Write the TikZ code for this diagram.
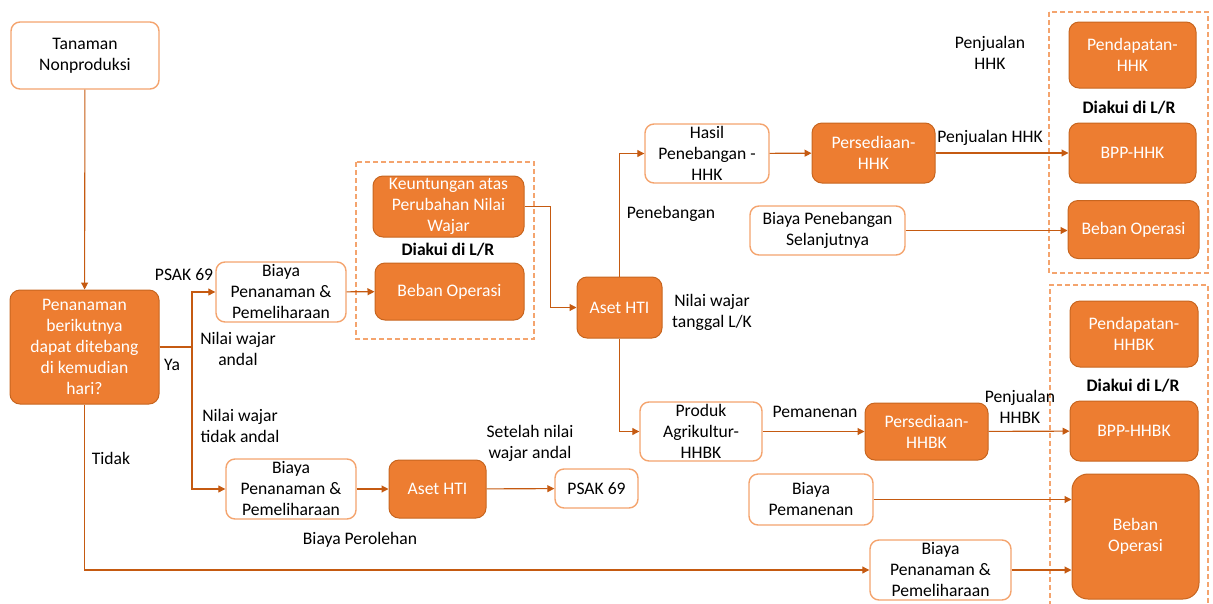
\documentclass[tikz,border=0pt]{standalone}
\usepackage{fontspec}
\setmainfont{Carlito}
\usetikzlibrary{arrows.meta}
\definecolor{orfill}{HTML}{ED7D31}
\definecolor{ordark}{HTML}{C7651F}
\definecolor{orlight}{HTML}{F4A46E}
\definecolor{orline}{HTML}{C55A11}
\begin{document}
\begin{tikzpicture}[x=1pt,y=-1pt,
  every node/.style={font=\fontsize{17.6}{21}\selectfont, inner sep=0pt, align=center},
  wbox/.style={draw=orlight, fill=white, rounded corners=9pt, line width=1.4pt, text=black},
  obox/.style={draw=ordark, fill=orfill, rounded corners=10pt, line width=1pt, text=white},
  conn/.style={draw=orline, line width=1.1pt, -{Triangle[length=7pt,width=7pt]}},
  lbl/.style={text=black},
  bold/.style={text=black, font=\fontsize{17.6}{21}\selectfont\bfseries},
  dbox/.style={draw=orlight, line width=1.4pt, dash pattern=on 5pt off 3pt}]
\useasboundingbox (0,0) rectangle (1213,603);
% dashed groups
\draw[dbox] (356,162) rectangle (534,339);
\draw[dbox] (1049,12) rectangle (1208,273);
\draw[dbox] (1050,606) -- (1050,285) -- (1208,285) -- (1208,606);
% nodes
\node[wbox, minimum width=148, minimum height=67] (tan) at (85,55.5) {Tanaman\\Nonproduksi};
\node[obox, minimum width=149, minimum height=114] (pen) at (84.5,347) {Penanaman\\berikutnya\\dapat ditebang\\di kemudian\\hari?};
\node[wbox, minimum width=130, minimum height=60] (b1) at (281,292) {Biaya\\Penanaman \&\\Pemeliharaan};
\node[obox, minimum width=151, minimum height=61] (keu) at (448.5,206.5) {Keuntungan atas\\Perubahan Nilai\\Wajar};
\node[bold] (d1) at (448,250) {Diakui di L/R};
\node[obox, minimum width=149, minimum height=57] (bo0) at (449.5,291.5) {Beban Operasi};
\node[obox, minimum width=85, minimum height=61] (aset) at (619.5,307.5) {Aset HTI};
\node[wbox, minimum width=124, minimum height=59] (hasil) at (707,153.5) {Hasil\\Penebangan -\\HHK};
\node[obox, minimum width=123, minimum height=60] (phhk) at (873.5,153) {Persediaan-\\HHK};
\node[obox, minimum width=127, minimum height=66] (pdhhk) at (1132.5,55) {Pendapatan-\\HHK};
\node[bold] (d2) at (1129,108) {Diakui di L/R};
\node[obox, minimum width=127, minimum height=60] (bpphhk) at (1132.5,153) {BPP-HHK};
\node[obox, minimum width=131, minimum height=58] (bo1) at (1133.5,229.5) {Beban Operasi};
\node[wbox, minimum width=155, minimum height=49] (bps) at (827.5,230.5) {Biaya Penebangan\\Selanjutnya};
\node[obox, minimum width=128, minimum height=66] (pdhhbk) at (1134,334) {Pendapatan-\\HHBK};
\node[bold] (d3) at (1133,386) {Diakui di L/R};
\node[obox, minimum width=128, minimum height=60] (bpphhbk) at (1134,431) {BPP-HHBK};
\node[obox, minimum width=127, minimum height=125, rounded corners=16pt] (bo2) at (1135.5,536.5) {Beban\\Operasi};
\node[wbox, minimum width=122, minimum height=59] (prod) at (701,431.5) {Produk\\Agrikultur-\\HHBK};
\node[obox, minimum width=123, minimum height=57] (phhbk) at (926.5,431.5) {Persediaan-\\HHBK};
\node[wbox, minimum width=124, minimum height=51] (bpm) at (811,499.5) {Biaya\\Pemanenan};
\node[wbox, minimum width=141, minimum height=60] (bpr) at (940.5,570) {Biaya\\Penanaman \&\\Pemeliharaan};
\node[wbox, minimum width=83, minimum height=39] (psak) at (596.5,488.5) {PSAK 69};
\node[obox, minimum width=97, minimum height=58] (aset2) at (437.5,489) {Aset HTI};
\node[wbox, minimum width=130, minimum height=60] (b2) at (291,489) {Biaya\\Penanaman \&\\Pemeliharaan};
% labels
\node[lbl] (l1) at (184,275) {PSAK 69};
\node[lbl] (l2) at (172,365) {Ya};
\node[lbl] (l3) at (238,349) {Nilai wajar\\andal};
\node[lbl] (l4) at (240,425.5) {Nilai wajar\\tidak andal};
\node[lbl] (l5) at (111,458) {Tidak};
\node[lbl] (l6) at (360,540) {Biaya Perolehan};
\node[lbl] (l7) at (530,443.5) {Setelah nilai\\wajar andal};
\node[lbl] (l8) at (671,214) {Penebangan};
\node[lbl] (l9) at (712,312.5) {Nilai wajar\\tanggal L/K};
\node[lbl] (l10) at (990,138) {Penjualan HHK};
\node[lbl] (l11) at (990,52.5) {Penjualan\\HHK};
\node[lbl] (l12) at (815,412) {Pemanenan};
\node[lbl] (l13) at (1020,406.5) {Penjualan\\HHBK};
% connectors
\coordinate (sp) at (192,347);
\draw[conn] (tan) -- (pen);
\draw[draw=orline, line width=1.1pt] (pen.east) -- (sp);
\draw[conn] (sp) |- (b1.west);
\draw[conn] (sp) |- (b2.west);
\draw[conn] (pen.south) |- (bpr.west);
\draw[conn] (b1) -- (bo0);
\draw[conn] (keu.east) -- ++(26,0) |- (aset.west);
\draw[conn] (aset.north) |- (hasil.west);
\draw[conn] (aset.south) |- (prod.west);
\draw[conn] (hasil) -- (phhk);
\draw[conn] (phhk) -- (bpphhk);
\draw[conn] (bps.east) -- (bo1.west |- bps.east);
\draw[conn] (prod) -- (phhbk);
\draw[conn] (phhbk) -- (bpphhbk);
\draw[conn] (bpm.east) -- (bo2.west |- bpm.east);
\draw[conn] (bpr.east) -- (bo2.west |- bpr.east);
\draw[conn] (b2) -- (aset2);
\draw[conn] (aset2) -- (psak);
\end{tikzpicture}
\end{document}
